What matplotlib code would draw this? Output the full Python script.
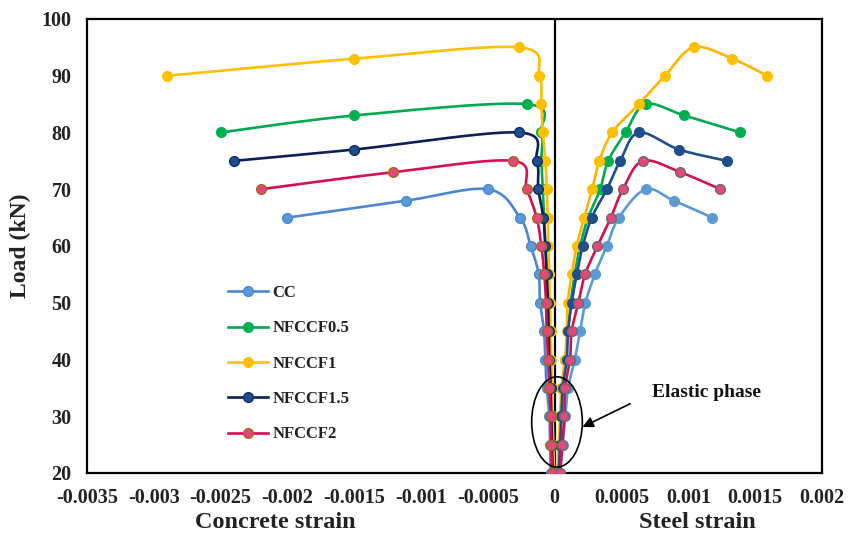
import numpy as np
import matplotlib
matplotlib.use("Agg")
import matplotlib.pyplot as plt
from matplotlib.lines import Line2D
from matplotlib.patches import Ellipse

plt.rcParams["font.family"] = ["Liberation Serif", "DejaVu Serif"]
plt.rcParams["font.weight"] = "bold"

# ---- data -------------------------------------------------------------
series_names = ["CC", "NFCCF0.5", "NFCCF1", "NFCCF1.5", "NFCCF2"]

# CC
cc_load = [20, 25, 30, 35, 40, 45, 50, 55, 60, 65, 70, 68, 65]
cc_concrete = [-0.00003, -0.000035, -0.00004, -0.00006, -0.00007, -0.00008, -0.00011,
               -0.00012, -0.00018, -0.00026, -0.0005, -0.00111, -0.002]
cc_steel = [0.00004, 0.00006, 0.00008, 0.0001, 0.00015, 0.00019, 0.00023,
            0.0003, 0.00039, 0.00048, 0.00068, 0.00089, 0.00118]

# NFCCF0.5
f05_load = [20, 25, 30, 35, 40, 45, 50, 55, 60, 65, 70, 75, 80, 85, 83, 80]
f05_concrete = [-0.000015, -0.00002, -0.000025, -0.00003, -0.000035, -0.00004, -0.00005,
                -0.00006, -0.00007, -0.00008, -0.00009, -0.0001, -0.0001, -0.00021,
                -0.0015, -0.0025]
f05_steel = [0.00003, 0.00004, 0.00005, 0.00006, 0.00008, 0.0001, 0.00012, 0.00015,
             0.00019, 0.00025, 0.00034, 0.0004, 0.00053, 0.00068, 0.00097, 0.00139]

# NFCCF1
f1_load = [20, 25, 30, 35, 40, 45, 50, 55, 60, 65, 70, 75, 80, 85, 90, 95, 93, 90]
f1_concrete = [-0.000005, -0.00001, -0.000015, -0.00002, -0.000025, -0.00003, -0.000035,
               -0.00004, -0.000048, -0.000052, -0.00006, -0.00007, -0.00009, -0.0001,
               -0.000115, -0.000267, -0.0015, -0.0029]
f1_steel = [0.00002, 0.00003, 0.00004, 0.00005, 0.000077, 0.00009, 0.000097, 0.000127,
            0.000165, 0.00022, 0.00028, 0.000334, 0.00043, 0.00063, 0.000825, 0.00104,
            0.00133, 0.00159]

# NFCCF1.5
f15_load = [20, 25, 30, 35, 40, 45, 50, 55, 60, 65, 70, 75, 80, 77, 75]
f15_concrete = [-0.000015, -0.00002, -0.000025, -0.00003, -0.00004, -0.000045, -0.00005,
                -0.00006, -0.00007, -0.000085, -0.000123, -0.000135, -0.000267,
                -0.0015, -0.0024]
f15_steel = [0.00003, 0.00004, 0.00005, 0.00006, 0.00009, 0.0001, 0.000127, 0.000165,
             0.00021, 0.000277, 0.00039, 0.00049, 0.00063, 0.00093, 0.00129]

# NFCCF2
f2_load = [20, 25, 30, 35, 40, 45, 50, 55, 60, 65, 70, 75, 73, 70]
f2_concrete = [-0.00002, -0.000025, -0.00003, -0.00004, -0.00005, -0.00006, -0.000065,
               -0.000078, -0.0001, -0.000135, -0.00021, -0.00031, -0.00121, -0.0022]
f2_steel = [0.00004, 0.000057, 0.000072, 0.000077, 0.000114, 0.000127, 0.000177,
            0.000227, 0.00032, 0.00042, 0.00051, 0.00066, 0.00094, 0.00124]

x_ticks = [-0.0035, -0.003, -0.0025, -0.002, -0.0015, -0.001, -0.0005,
           0, 0.0005, 0.001, 0.0015, 0.002]
x_tick_labels = ["-0.0035", "-0.003", "-0.0025", "-0.002", "-0.0015", "-0.001",
                 "-0.0005", "0", "0.0005", "0.001", "0.0015", "0.002"]
y_ticks = [20, 30, 40, 50, 60, 70, 80, 90, 100]

# ---- styles -----------------------------------------------------------
styles = {
    "CC":       dict(cline="#4A86D4", sline="#5B9BD5", face="#5B9BD5", cedge="#4A86D4", sedge="#5B9BD5"),
    "NFCCF0.5": dict(cline="#00A84F", sline="#00A84F", face="#00B050", cedge="#00B050", sedge="#00B050"),
    "NFCCF1":   dict(cline="#FFC000", sline="#FFB400", face="#FFC000", cedge="#FFC000", sedge="#FFC000"),
    "NFCCF1.5": dict(cline="#0E1E58", sline="#1F4E8C", face="#1F4E8C", cedge="#0B2D6B", sedge="#1F4E8C"),
    "NFCCF2":   dict(cline="#D6104F", sline="#D6104F", face="#E4477B", cedge="#9C6B1E", sedge="#6B6B6B"),
}

data = {
    "CC": (cc_load, cc_concrete, cc_steel),
    "NFCCF0.5": (f05_load, f05_concrete, f05_steel),
    "NFCCF1": (f1_load, f1_concrete, f1_steel),
    "NFCCF1.5": (f15_load, f15_concrete, f15_steel),
    "NFCCF2": (f2_load, f2_concrete, f2_steel),
}

fig = plt.figure(figsize=(8.59, 5.35), dpi=100)
ax = fig.add_axes([87 / 859, 62 / 535, 735 / 859, 454 / 535])
ax.set_xlim(-0.0035, 0.002)
ax.set_ylim(20, 100)


def smooth_curve(xs, ys, n=20):
    """Smoothed polyline through the points (Bezier, Catmull-Rom style),
    computed in display space so both axes are treated evenly."""
    P = ax.transData.transform(np.column_stack([xs, ys]))
    out = [P[0]]
    t = np.linspace(0, 1, n)[1:, None]
    for i in range(len(P) - 1):
        p0 = P[i - 1] if i > 0 else P[i]
        p1, p2 = P[i], P[i + 1]
        p3 = P[i + 2] if i + 2 < len(P) else P[i + 1]
        c1 = p1 + (p2 - p0) / 6.0
        c2 = p2 - (p3 - p1) / 6.0
        seg = ((1 - t) ** 3) * p1 + 3 * ((1 - t) ** 2) * t * c1 \
            + 3 * (1 - t) * t ** 2 * c2 + t ** 3 * p2
        out.extend(seg)
    out = ax.transData.inverted().transform(np.array(out))
    return out[:, 0], out[:, 1]


z = 3
for name in series_names:
    load, conc, steel = data[name]
    st = styles[name]
    for xs, lc, ec in ((conc, st["cline"], st["cedge"]), (steel, st["sline"], st["sedge"])):
        sx, sy = smooth_curve(xs, load)
        ax.plot(sx, sy, color=lc, lw=1.9, zorder=z, solid_capstyle="round")
        ax.plot(xs, load, ls="none", marker="o", ms=7, mfc=st["face"], mec=ec,
                mew=1.0, zorder=z + 0.5)
    z += 1

ax.axvline(0, color="black", lw=1.6, zorder=2)

for s in ax.spines.values():
    s.set_linewidth(1.6)
    s.set_color("black")

ax.set_xticks(x_ticks)
ax.set_xticklabels(x_tick_labels)
ax.set_yticks(y_ticks)
ax.tick_params(length=0, labelsize=14.5, pad=11)
for lab in ax.get_xticklabels() + ax.get_yticklabels():
    lab.set_fontweight("bold")
    lab.set_color("#222222")

ax.set_ylabel("Load (kN)", fontsize=17, fontweight="bold", labelpad=8, color="#222222")

fig.text(275 / 859, 1 - 523 / 535, "Concrete strain", ha="center", va="center",
         fontsize=17.5, fontweight="bold", color="#222222")
fig.text(697 / 859, 1 - 523 / 535, "Steel strain", ha="center", va="center",
         fontsize=17.5, fontweight="bold", color="#222222")

# elastic phase marker
ax.add_patch(Ellipse((0.000017, 29.0), 0.000379, 15.9, fill=False, ec="black",
                     lw=1.2, zorder=20))
ax.annotate("", xy=(0.000207, 28.1), xytext=(0.000564, 32.2),
            arrowprops=dict(arrowstyle="-|>", color="black", lw=1.2,
                            mutation_scale=16, shrinkA=0, shrinkB=0), zorder=20)
ax.text(0.000726, 34.1, "Elastic phase", fontsize=14, fontweight="bold",
        ha="left", va="center", color="#111111")

# legend
handles = []
for name in series_names:
    st = styles[name]
    handles.append(Line2D([], [], color=st["cline"], lw=1.9, marker="o", ms=7,
                          mfc=st["face"], mec=st["cedge"], mew=1.0))
leg = ax.legend(handles, series_names, loc="upper left", bbox_to_anchor=(0.192, 0.414),
                frameon=False, fontsize=12, handlelength=2.4, handletextpad=0.25,
                labelspacing=1.16, borderpad=0, borderaxespad=0)
for t in leg.get_texts():
    t.set_fontweight("bold")
    t.set_color("#222222")

fig.savefig("out.png", dpi=100)
